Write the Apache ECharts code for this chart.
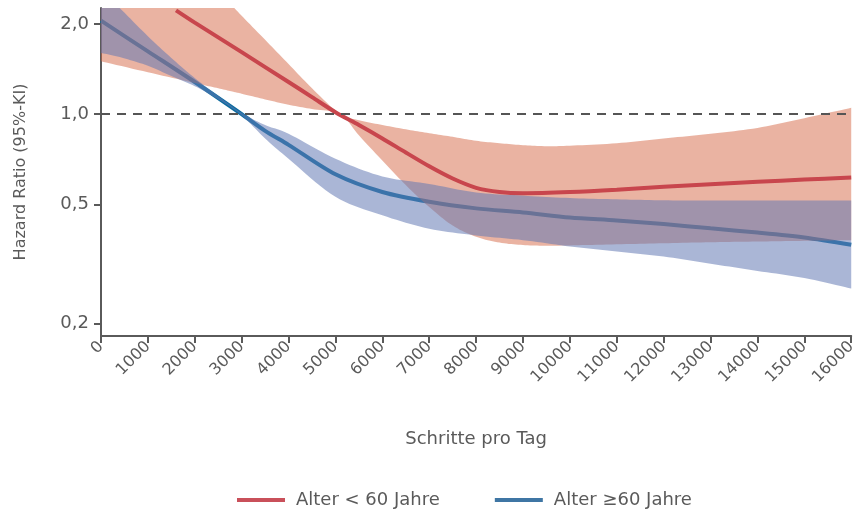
<!DOCTYPE html>
<html><head><meta charset="utf-8">
<script src="https://cdn.jsdelivr.net/npm/echarts@6/dist/echarts.min.js"></script>
<style>html,body{margin:0;padding:0;background:#fff}#c{width:859px;height:509px}</style>
</head><body><div id="c"></div>
<script>
// x tick labels / y tick values
const xTicks = [0,1000,2000,3000,4000,5000,6000,7000,8000,9000,10000,11000,12000,13000,14000,15000,16000];
const yTicks = [0.2, 0.5, 1.0, 2.0];

// Alter < 60 Jahre (red)
const redX    = [1600,2000,3000,4000,4500,5000,5500,6000,6500,7000,7500,8000,8500,9000,10000,11000,12000,13000,14000,15000,16000];
const redHR   = [2.22,2.02,1.61,1.28,1.14,1.015,0.92,0.83,0.745,0.67,0.61,0.568,0.55,0.545,0.55,0.56,0.573,0.584,0.595,0.605,0.615];
const redBandX  = [0,1000,2000,2500,2800,3000,3500,4000,4500,5100,5500,6000,6500,7000,7500,8000,8500,9000,9500,10000,11000,12000,13000,14000,15000,16000];
const redLower  = [1.50,1.38,1.27,1.22,1.19,1.17,1.12,1.075,1.04,1.00,0.85,0.70,0.58,0.49,0.425,0.39,0.373,0.366,0.364,0.365,0.368,0.371,0.374,0.376,0.378,0.38];
const redUpper  = [5.0,4.0,3.1,2.6,2.3,2.13,1.77,1.47,1.22,1.00,0.955,0.92,0.89,0.864,0.84,0.815,0.80,0.788,0.782,0.785,0.80,0.83,0.86,0.90,0.97,1.05];

// Alter >= 60 Jahre (blue)
const blueX   = [0,1000,2000,3000,3500,4000,5000,6000,7000,8000,9000,10000,11000,12000,13000,14000,15000,16000];
const blueHR  = [2.05,1.62,1.28,1.00,0.88,0.79,0.63,0.55,0.51,0.485,0.47,0.452,0.442,0.43,0.416,0.403,0.388,0.367];
const blueBandX = [0,400,1000,1500,2000,2500,3000,3500,4000,5000,6000,7000,8000,9000,10000,11000,12000,13000,14000,15000,16000];
const blueLower = [1.60,1.55,1.45,1.34,1.24,1.12,0.99,0.83,0.71,0.53,0.46,0.415,0.394,0.38,0.362,0.348,0.335,0.317,0.30,0.284,0.262];
const blueUpper = [2.6,2.26,1.82,1.54,1.32,1.15,1.01,0.92,0.86,0.71,0.62,0.585,0.548,0.535,0.525,0.52,0.516,0.515,0.515,0.515,0.515];

const FONT = 'DejaVu Sans';
const GRAY = '#5a5a5a';

function zip(a, b) { return a.map((v, i) => [v, b[i]]); }
function bandData(xs, lo, hi) { return xs.map((v, i) => [v, lo[i], hi[i]]); }
// Catmull-Rom smoothing of an open pixel polyline
function smoothPts(p) {
  const out = [];
  const n = p.length;
  for (let i = 0; i < n - 1; i++) {
    const p0 = p[Math.max(0, i - 1)], p1 = p[i], p2 = p[i + 1], p3 = p[Math.min(n - 1, i + 2)];
    const steps = 10;
    for (let s = 0; s < steps; s++) {
      const t = s / steps, t2 = t * t, t3 = t2 * t;
      const f = (a, b, c, d) => 0.5 * ((2 * b) + (-a + c) * t + (2 * a - 5 * b + 4 * c - d) * t2 + (-a + 3 * b - 3 * c + d) * t3);
      out.push([f(p0[0], p1[0], p2[0], p3[0]), f(p0[1], p1[1], p2[1], p3[1])]);
    }
  }
  out.push(p[n - 1]);
  return out;
}
function bandRender(xs, lo, hi, color) {
  return function (params, api) {
    if (params.dataIndex !== 0) return null;
    const top = smoothPts(xs.map((v, i) => api.coord([v, hi[i]])));
    const bot = smoothPts(xs.map((v, i) => api.coord([v, lo[i]]))).reverse();
    return {
      type: 'polygon',
      shape: { points: top.concat(bot) },
      style: { fill: color, stroke: null }
    };
  };
}

const chart = echarts.init(document.getElementById('c'), null, { renderer: 'canvas' });
chart.setOption({
  animation: false,
  grid: { left: 101, right: 4, top: 8, bottom: 173 },
  legend: {
    left: 232, top: 486,
    itemWidth: 48, itemHeight: 4, itemGap: 55,
    icon: 'rect',
    textStyle: { fontFamily: FONT, fontSize: 18, color: GRAY, padding: [0, 0, 0, 6] },
    data: ['Alter < 60 Jahre', 'Alter ≥60 Jahre']
  },
  xAxis: {
    type: 'value', min: 0, max: 16000, interval: 1000,
    name: 'Schritte pro Tag', nameLocation: 'middle', nameGap: 94,
    nameTextStyle: { fontFamily: FONT, fontSize: 18, color: GRAY },
    axisLine: { lineStyle: { color: GRAY, width: 2 } },
    axisTick: { show: true, length: 7, lineStyle: { color: GRAY, width: 2 } },
    axisLabel: { rotate: 45, fontFamily: FONT, fontSize: 16, color: GRAY, margin: 8,
      formatter: v => String(v) },
    splitLine: { show: false }
  },
  yAxis: {
    type: 'log', logBase: 10, min: 0.182, max: 2.26,
    name: 'Hazard Ratio (95%-KI)', nameLocation: 'middle', nameGap: 72,
    nameTextStyle: { fontFamily: FONT, fontSize: 16, color: GRAY },
    axisLine: { show: true, lineStyle: { color: GRAY, width: 2 } },
    axisTick: { show: true, length: 7, customValues: yTicks, lineStyle: { color: GRAY, width: 2 } },
    axisLabel: { customValues: yTicks, fontFamily: FONT, fontSize: 18, color: GRAY, margin: 12,
      formatter: v => Number(v).toFixed(1).replace('.', ',') },
    splitLine: { show: false }
  },
  series: [
    {
      name: 'Alter ≥60 Jahre', type: 'line', z: 1, data: zip(blueX, blueHR),
      smooth: 0.3, showSymbol: false, symbol: 'none',
      lineStyle: { color: '#0b6b9e', width: 4 }, itemStyle: { color: '#3f76a4' },
      markLine: {
        silent: true, symbol: 'none', label: { show: false },
        lineStyle: { color: '#555', width: 2, type: [9, 7] },
        data: [{ yAxis: 1.0 }]
      }
    },
    {
      type: 'custom', z: 2, clip: true, silent: true,
      data: bandData(redBandX, redLower, redUpper),
      encode: { x: 0, y: [1, 2] },
      renderItem: bandRender(redBandX, redLower, redUpper, 'rgba(214,103,70,0.5)')
    },
    {
      type: 'custom', z: 3, clip: true, silent: true,
      data: bandData(blueBandX, blueLower, blueUpper),
      encode: { x: 0, y: [1, 2] },
      renderItem: bandRender(blueBandX, blueLower, blueUpper, 'rgba(100,122,180,0.55)')
    },
    {
      name: 'Alter < 60 Jahre', type: 'line', z: 4, data: zip(redX, redHR),
      smooth: 0.3, showSymbol: false, symbol: 'none',
      lineStyle: { color: '#c8464d', width: 4 }, itemStyle: { color: '#c9505a' }
    }
  ]
});
</script></body></html>
